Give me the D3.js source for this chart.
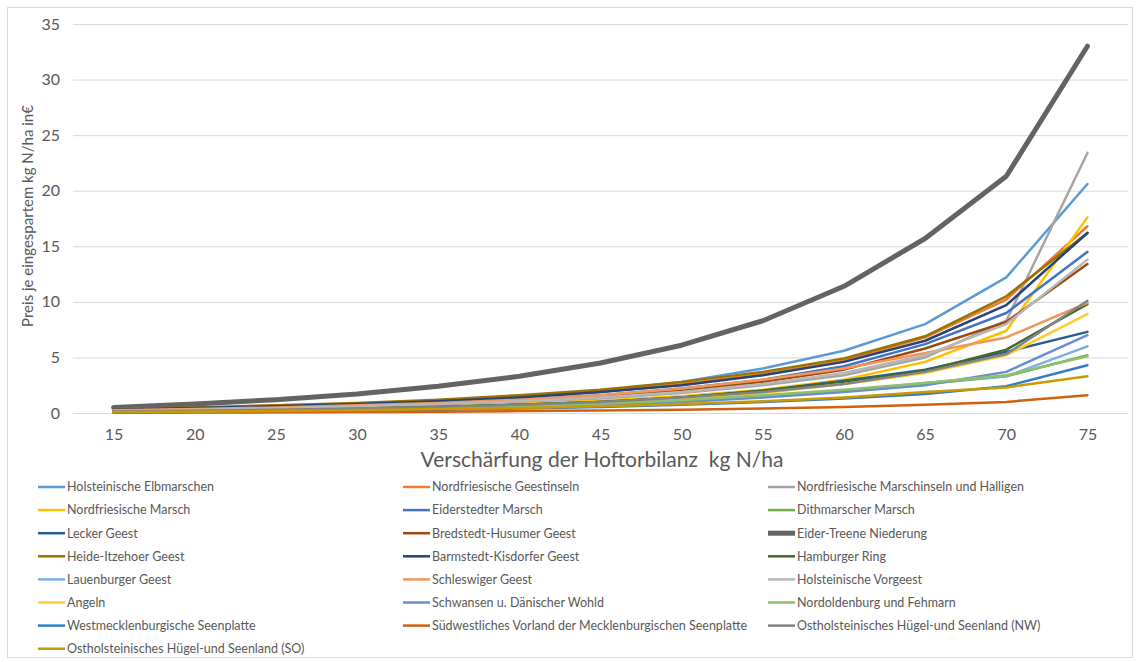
<!DOCTYPE html>
<html>
<head>
<meta charset="utf-8">
<script src="https://cdn.jsdelivr.net/npm/d3@7"></script>
<style>
  body { margin: 0; background: #fff; }
  text { font-family: Lato, "Open Sans", sans-serif; fill: #595959; }
</style>
</head>
<body>
<svg id="chart" width="1138" height="662"></svg>
<script>
// x categories (Verschärfung in kg N/ha)
const categories = [15, 20, 25, 30, 35, 40, 45, 50, 55, 60, 65, 70, 75];
const yTicks = [0, 5, 10, 15, 20, 25, 30, 35];

const seriesNames = [
  'Holsteinische Elbmarschen', 'Nordfriesische Geestinseln', 'Nordfriesische Marschinseln und Halligen',
  'Nordfriesische Marsch', 'Eiderstedter Marsch', 'Dithmarscher Marsch',
  'Lecker Geest', 'Bredstedt-Husumer Geest', 'Eider-Treene Niederung',
  'Heide-Itzehoer Geest', 'Barmstedt-Kisdorfer Geest', 'Hamburger Ring',
  'Lauenburger Geest', 'Schleswiger Geest', 'Holsteinische Vorgeest',
  'Angeln', 'Schwansen u. Dänischer Wohld', 'Nordoldenburg und Fehmarn',
  'Westmecklenburgische Seenplatte', 'Südwestliches Vorland der Mecklenburgischen Seenplatte', 'Ostholsteinisches Hügel-und Seenland (NW)',
  'Ostholsteinisches Hügel-und Seenland (SO)'
];

const seriesColors = [
  '#5B9BD5', '#ED7D31', '#A5A5A5', '#FFC000', '#4472C4', '#70AD47',
  '#255E91', '#9E480E', '#636363', '#997300', '#264478', '#43682B',
  '#7CAFDD', '#F1975A', '#B7B7B7', '#FFCD33', '#698ED0', '#8CC168',
  '#327DC2', '#D26012', '#848484', '#CC9A00'
];

// values per region (15 ... 75)
const seriesValues = [
  [0.30, 0.40, 0.60, 0.80, 1.10, 1.50, 2.00, 2.80, 4.00, 5.60, 8.00, 12.2, 20.6],
  [0.30, 0.45, 0.60, 0.80, 1.10, 1.40, 1.90, 2.60, 3.50, 4.70, 6.80, 10.2, 16.8],
  [0.20, 0.30, 0.40, 0.55, 0.75, 1.00, 1.30, 1.80, 2.50, 3.40, 5.00, 8.30, 23.4],
  [0.15, 0.25, 0.35, 0.45, 0.60, 0.80, 1.10, 1.50, 2.10, 3.00, 4.60, 7.40, 17.6],
  [0.25, 0.35, 0.50, 0.65, 0.90, 1.20, 1.60, 2.20, 3.00, 4.20, 6.20, 9.00, 14.5],
  [0.10, 0.15, 0.20, 0.30, 0.40, 0.55, 0.80, 1.10, 1.50, 2.00, 2.60, 3.30, 5.20],
  [0.15, 0.20, 0.30, 0.40, 0.55, 0.75, 1.00, 1.40, 2.00, 2.90, 3.90, 5.50, 7.30],
  [0.20, 0.30, 0.45, 0.60, 0.80, 1.10, 1.50, 2.00, 2.80, 3.90, 5.80, 8.20, 13.4],
  [0.50, 0.80, 1.20, 1.70, 2.40, 3.30, 4.50, 6.10, 8.30, 11.4, 15.7, 21.3, 33.0],
  [0.35, 0.50, 0.70, 0.90, 1.20, 1.60, 2.10, 2.80, 3.70, 4.90, 6.90, 10.5, 16.2],
  [0.30, 0.45, 0.60, 0.80, 1.05, 1.40, 1.90, 2.50, 3.40, 4.60, 6.50, 9.70, 16.2],
  [0.15, 0.20, 0.30, 0.40, 0.55, 0.75, 1.00, 1.40, 2.00, 2.80, 3.80, 5.70, 9.80],
  [0.10, 0.15, 0.25, 0.30, 0.45, 0.60, 0.80, 1.10, 1.50, 2.00, 2.70, 3.30, 6.00],
  [0.25, 0.35, 0.50, 0.70, 0.90, 1.20, 1.60, 2.20, 3.00, 4.00, 5.40, 6.80, 9.90],
  [0.20, 0.30, 0.40, 0.60, 0.80, 1.05, 1.40, 1.90, 2.60, 3.60, 5.20, 8.00, 13.8],
  [0.10, 0.15, 0.25, 0.35, 0.45, 0.65, 0.90, 1.25, 1.80, 2.60, 3.60, 5.20, 8.90],
  [0.10, 0.15, 0.20, 0.30, 0.40, 0.55, 0.75, 1.00, 1.40, 1.90, 2.50, 3.70, 7.00],
  [0.12, 0.18, 0.25, 0.35, 0.45, 0.60, 0.85, 1.15, 1.60, 2.10, 2.70, 3.40, 5.10],
  [0.05, 0.10, 0.15, 0.20, 0.30, 0.40, 0.55, 0.75, 1.00, 1.30, 1.70, 2.40, 4.30],
  [0.02, 0.04, 0.06, 0.09, 0.12, 0.17, 0.23, 0.30, 0.40, 0.55, 0.75, 1.00, 1.60],
  [0.15, 0.20, 0.30, 0.40, 0.55, 0.75, 1.00, 1.40, 1.90, 2.60, 3.70, 5.30, 10.1],
  [0.08, 0.12, 0.18, 0.25, 0.35, 0.45, 0.60, 0.80, 1.05, 1.40, 1.90, 2.30, 3.30]
];

const plot = { left: 73, right: 1128, top: 24, bottom: 413 };

function Draw_Chart(){
    const svg = d3.select('#chart');

    // outer chart border
    svg.append('rect')
    .attr('x', 7.5).attr('y', 7.5)
    .attr('width', 1125).attr('height', 650)
    .attr('fill', 'none')
    .attr('stroke', '#d9d9d9');

    // scales
    const x = d3.scalePoint()
    .domain(categories)
    .range([plot.left, plot.right])
    .padding(0.5);

    const y = d3.scaleLinear()
    .domain([0, 35])
    .range([plot.bottom, plot.top]);

    // gridlines + y labels
    const yAxis = svg.append('g')
    .attr('transform', `translate(${plot.left},0)`)
    .call(d3.axisLeft(y).tickValues(yTicks).tickSize(-(plot.right - plot.left)).tickPadding(13));
    yAxis.select('.domain').remove();
    yAxis.selectAll('line').attr('stroke', '#d9d9d9');
    yAxis.selectAll('text').style('font-size', '16px').attr('fill', '#595959');

    // x labels
    const xAxis = svg.append('g')
    .attr('transform', `translate(0,${plot.bottom})`)
    .call(d3.axisBottom(x).tickSize(0).tickPadding(16));
    xAxis.select('.domain').remove();
    xAxis.selectAll('text').style('font-size', '16px').attr('fill', '#595959');

    // lines
    const line = d3.line()
    .x((d, i) => x(categories[i]))
    .y(d => y(d));

    const order = d3.range(seriesNames.length);
    svg.append('g')
    .selectAll('path')
    .data(order)
    .enter()
    .append('path')
    .attr('d', i => line(seriesValues[i]))
    .attr('fill', 'none')
    .attr('stroke', i => seriesColors[i])
    .attr('stroke-width', i => i === 8 ? 5 : 2.5)
    .attr('stroke-linejoin', 'round')
    .attr('stroke-linecap', 'round');

    // axis titles
    svg.append('text')
    .attr('x', 602)
    .attr('y', 467)
    .style('text-anchor', 'middle')
    .style('font-size', '21px')
    .style('white-space', 'pre')
    .text('Verschärfung der Hoftorbilanz  kg N/ha');

    svg.append('text')
    .attr('transform', 'translate(33,216) rotate(-90)')
    .style('text-anchor', 'middle')
    .style('font-size', '15px')
    .text('Preis je eingespartem kg N/ha in€');

    // legend, 3 columns
    const colX = [38, 403, 768];
    const legend = svg.append('g')
    .selectAll('g')
    .data(order)
    .enter()
    .append('g')
    .attr('transform', i => `translate(${colX[i % 3]},${487 + Math.floor(i / 3) * 23.1})`);

    legend.append('line')
    .attr('x1', 0).attr('x2', 27)
    .attr('stroke', i => seriesColors[i])
    .attr('stroke-width', i => i === 8 ? 5 : 2.5);

    legend.append('text')
    .attr('x', 29)
    .attr('dy', '0.35em')
    .style('font-size', '12.5px')
    .text(i => seriesNames[i]);
}

Draw_Chart();
</script>
</body>
</html>
